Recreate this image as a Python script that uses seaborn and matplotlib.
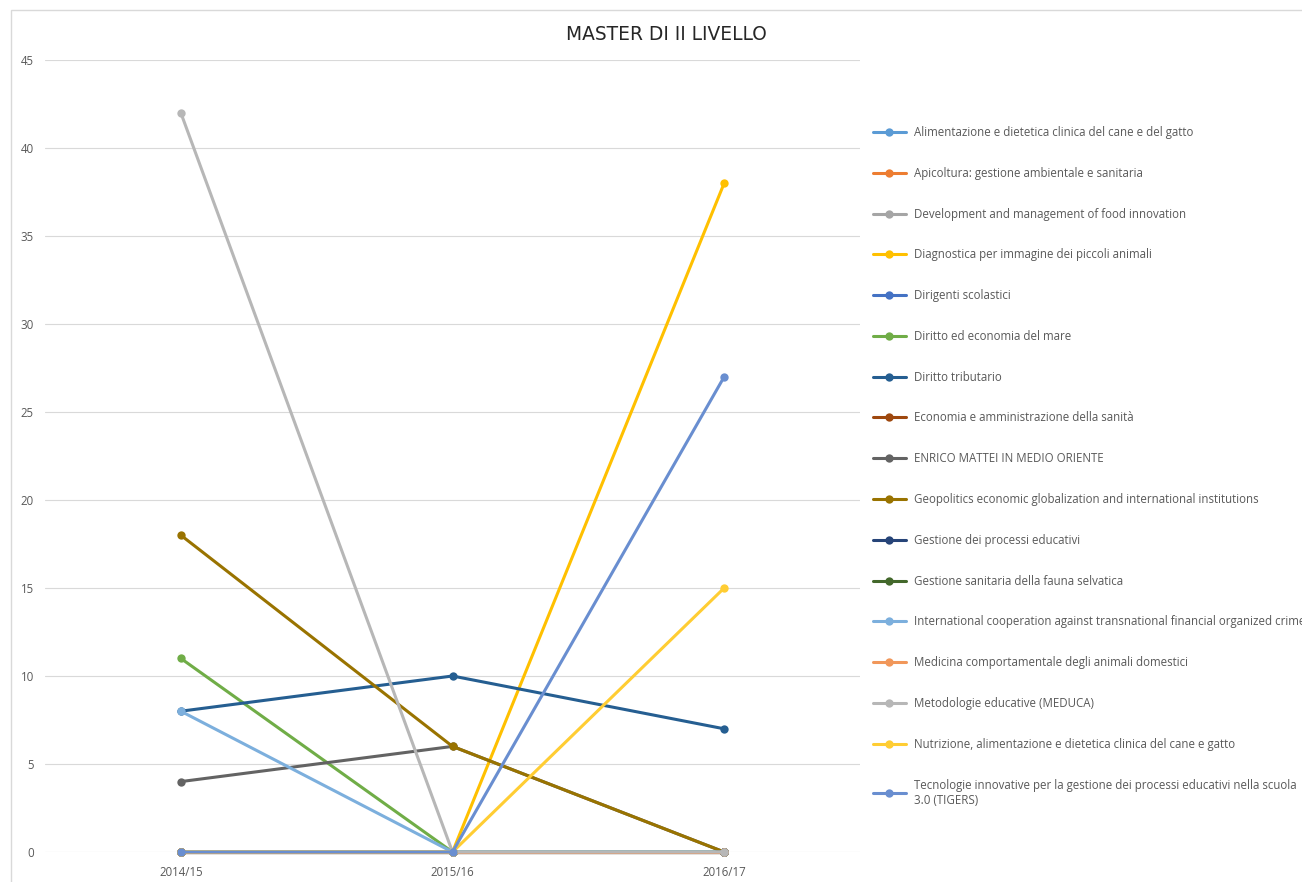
import pandas as pd
import numpy as np
import matplotlib.pyplot as plt
import seaborn as sns
from matplotlib.patches import Rectangle

sns.set_style("white")
plt.rcParams['font.family'] = ['Open Sans', 'DejaVu Sans']

# ==============================
# Data
# ==============================
years = ["2014/15", "2015/16", "2016/17"]

courses = [
    "Alimentazione e dietetica clinica del cane e del gatto",
    "Apicoltura: gestione ambientale e sanitaria",
    "Development and management of food innovation",
    "Diagnostica per immagine dei piccoli animali",
    "Dirigenti scolastici",
    "Diritto ed economia del mare",
    "Diritto tributario",
    "Economia e amministrazione della sanità",
    "ENRICO MATTEI IN MEDIO ORIENTE",
    "Geopolitics economic globalization and international institutions",
    "Gestione dei processi educativi",
    "Gestione sanitaria della fauna selvatica",
    "International cooperation against transnational financial organized crime",
    "Medicina comportamentale degli animali domestici",
    "Metodologie educative (MEDUCA)",
    "Nutrizione, alimentazione e dietetica clinica del cane e gatto",
    "Tecnologie innovative per la gestione dei processi educativi nella scuola\n3.0 (TIGERS)",
]

values = [
    [0, 0, 0],
    [0, 0, 0],
    [0, 0, 0],
    [0, 0, 38],
    [0, 0, 0],
    [11, 0, 0],
    [8, 10, 7],
    [0, 0, 0],
    [4, 6, 0],
    [18, 6, 0],
    [0, 0, 0],
    [0, 0, 0],
    [8, 0, 0],
    [0, 0, 0],
    [42, 0, 0],
    [0, 0, 15],
    [0, 0, 27],
]

colors = ["#5B9BD5", "#ED7D31", "#A5A5A5", "#FFC000", "#4472C4", "#70AD47",
          "#255E91", "#9E480E", "#636363", "#997300", "#264478", "#43682B",
          "#7CAFDD", "#F1975A", "#B7B7B7", "#FFCD33", "#698ED0"]

rows = []
for c, vals in zip(courses, values):
    for y, v in zip(years, vals):
        rows.append({"course": c, "year": y, "count": v})
df = pd.DataFrame(rows)

# ==============================
# Plot
# ==============================
fig = plt.figure(figsize=(13.02, 8.82), dpi=100)
W, H = 1302, 882
ax = fig.add_axes([45 / W, 1 - 852 / H, (860 - 45) / W, (852 - 60) / H])

sns.lineplot(data=df, x="year", y="count", hue="course", hue_order=courses,
             palette=colors, marker="o", markersize=6, markeredgewidth=0,
             linewidth=2.2, sort=False, ax=ax, legend=True)

ax.set_xlim(-0.5, 2.5)
ax.set_ylim(0, 45)
ax.set_yticks(range(0, 46, 5))
ax.yaxis.grid(True, color="#D9D9D9", linewidth=0.8)
ax.set_axisbelow(True)
for s in ax.spines.values():
    s.set_visible(False)
ax.tick_params(axis="both", length=0, labelsize=8.3, labelcolor="#595959")
ax.tick_params(axis="y", pad=8)
ax.tick_params(axis="x", pad=10)
ax.set_xlabel("")
ax.set_ylabel("")
for ln in ax.get_lines():
    ln.set_clip_on(False)

# legend on the right (last label runs off the edge like the original)
handles, labels = ax.get_legend_handles_labels()
ax.legend_.remove()
fig.legend(handles, labels, loc="upper left",
           bbox_to_anchor=(873 / W, 1 - 126 / H), frameon=False,
           fontsize=8.3, labelcolor="#595959", handlelength=2.86,
           handletextpad=0.69, labelspacing=2.41, borderpad=0, borderaxespad=0)

fig.text(666 / W, 1 - 34 / H, "MASTER DI II LIVELLO", ha="center", va="center",
         fontsize=13.4, color="#262626", family="DejaVu Sans")

# chart frame
fig.patches.append(Rectangle((11 / W, -0.1), 1.2, 1 - 10 / H + 0.1,
                             transform=fig.transFigure, fill=False,
                             edgecolor="#D9D9D9", linewidth=1))

fig.savefig("out.png", dpi=100)
